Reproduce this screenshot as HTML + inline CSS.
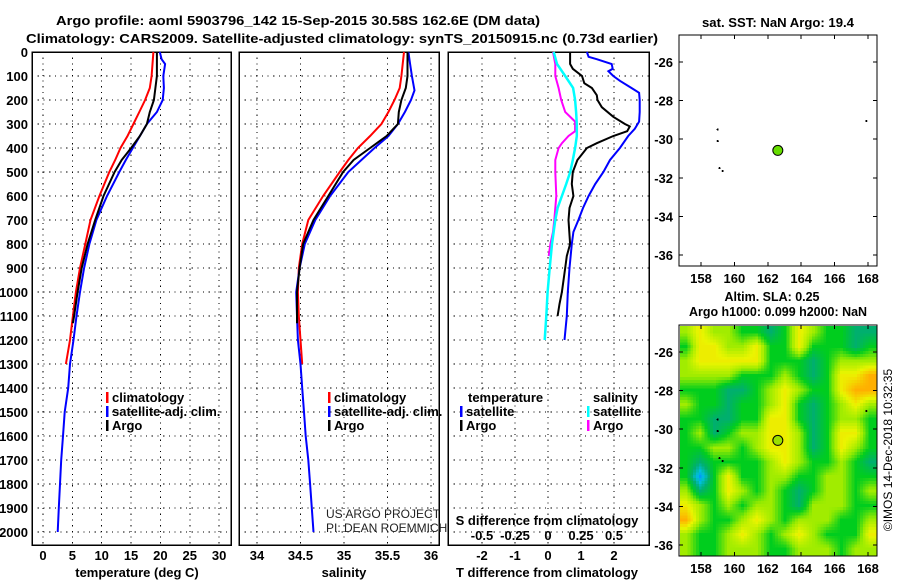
<!DOCTYPE html>
<html><head><meta charset="utf-8"><style>
html,body{margin:0;padding:0;background:#fff;}
svg{display:block;font-family:"Liberation Sans",sans-serif;}
.b{font-weight:bold;font-size:13px;}
.t{font-weight:bold;font-size:13px;}
</style></head><body>
<svg id="chart" width="900" height="580" viewBox="0 0 900 580" xmlns="http://www.w3.org/2000/svg" shape-rendering="crispEdges">
<defs>
<clipPath id="mapclip"><rect x="680" y="326" width="197" height="230"/></clipPath>
</defs>
<text class="b" x="298" y="25" text-anchor="middle" textLength="484" lengthAdjust="spacingAndGlyphs">Argo profile: aoml 5903796_142 15-Sep-2015 30.58S 162.6E (DM data)</text>
<text class="b" x="342" y="43" text-anchor="middle" textLength="632" lengthAdjust="spacingAndGlyphs">Climatology: CARS2009. Satellite-adjusted climatology: synTS_20150915.nc (0.73d earlier)</text>
<text class="b" x="778" y="27" text-anchor="middle" textLength="152" lengthAdjust="spacingAndGlyphs">sat. SST: NaN Argo: 19.4</text>
<text class="b" x="772" y="301" text-anchor="middle" textLength="95" lengthAdjust="spacingAndGlyphs">Altim. SLA: 0.25</text>
<text class="b" x="778" y="316" text-anchor="middle" textLength="178" lengthAdjust="spacingAndGlyphs">Argo h1000: 0.099 h2000: NaN</text>
<g id="g"></g>
<text x="892" y="450" font-size="12" text-anchor="middle" transform="rotate(-90 892 450)">©IMOS 14-Dec-2018 10:32:35</text>
</svg>
<script>
// ---------- data ----------
const tDepth = [0,100,150,200,250,300,350,400,450,500,600,700,800,900,1000,1100,1200,1300];
const tClim  = [18.8,18.5,18.2,17.4,16.4,15.4,14.4,13.2,12.3,11.3,9.6,8.1,7.2,6.3,5.6,5.1,4.6,3.9];
const aDepth = [0,100,200,250,300,350,400,450,500,600,700,800,900,1000,1100,1130];
const tArgo  = [19.4,19.4,18.9,18.2,17.7,16.5,15.0,13.4,12.2,10.3,8.9,7.6,6.6,5.9,5.3,5.1];
const sDepth = [0,30,50,100,150,200,250,300,350,400,450,500,600,700,800,900,1000,1100,1200,1300,1400,1500,1600,1700,1800,1900,2000];
const tSat   = [19.9,20.2,20.8,20.5,20.6,20.4,19.4,17.7,16.5,15.3,14.1,13.0,10.9,9.1,7.9,7.0,6.3,5.7,5.2,4.6,4.3,3.7,3.4,3.1,2.9,2.7,2.5];
const cDepthS = [0,100,150,200,250,300,350,400,450,500,600,700,800,900,1000,1100,1200,1300];
const sClim  = [35.69,35.66,35.64,35.58,35.51,35.43,35.30,35.16,35.05,34.95,34.76,34.59,34.52,34.48,34.47,34.48,34.50,34.52];
const aDepthS = [0,100,150,200,250,300,350,400,450,500,600,700,800,900,1000,1100,1130];
const sArgo  = [35.73,35.73,35.71,35.66,35.63,35.62,35.49,35.30,35.11,34.99,34.82,34.65,34.53,34.49,34.46,34.46,34.46];
const satDepthS = [0,50,100,160,200,250,300,350,400,450,500,600,700,800,900,1000,1100,1200,1300,1400,1500,1600,1700,1800,1900,2000];
const sSat   = [35.74,35.76,35.78,35.81,35.77,35.70,35.62,35.51,35.35,35.20,35.05,34.84,34.67,34.55,34.49,34.45,34.46,34.47,34.50,34.52,34.54,34.56,34.59,34.61,34.63,34.65];
const dtSatDepth = [0,20,30,50,70,80,100,120,150,170,200,250,290,320,350,400,450,500,550,600,650,700,750,800,900,1000,1100,1200];
const dtSat  = [1.18,1.23,1.48,1.93,1.96,1.83,1.98,2.18,2.53,2.76,2.78,2.78,2.76,2.63,2.43,2.18,1.88,1.68,1.43,1.23,1.06,0.92,0.77,0.72,0.65,0.60,0.57,0.50];
const dtArgoDepth = [0,50,70,100,130,150,180,200,230,270,300,310,330,350,380,400,450,500,550,600,650,700,800,850,900,1000,1050,1100];
const dtArgo = [0.67,0.67,0.75,1.03,1.10,1.33,1.48,1.50,1.63,1.98,2.33,2.48,2.40,1.98,1.48,1.18,0.89,0.75,0.72,0.77,0.65,0.62,0.67,0.57,0.52,0.42,0.35,0.29];
const dsSatDepth = [0,50,100,150,200,250,300,350,400,450,500,550,600,650,700,800,900,1000,1100,1200];
const dsSat  = [0.043,0.068,0.13,0.19,0.205,0.213,0.218,0.218,0.205,0.188,0.168,0.138,0.105,0.073,0.055,0.03,0.013,-0.003,-0.013,-0.025];
const dsArgoDepth = [0,50,100,150,200,250,290,300,330,350,380,400,450,500,600,700,750,800,850];
const dsArgo = [0.038,0.055,0.055,0.08,0.10,0.13,0.205,0.205,0.205,0.155,0.105,0.08,0.055,0.055,0.063,0.048,0.038,0.018,0.005];
const depthTicks = [0,100,200,300,400,500,600,700,800,900,1000,1100,1200,1300,1400,1500,1600,1700,1800,1900,2000];
const tempTicks = [0,5,10,15,20,25,30];
const salTicks = [34,34.5,35,35.5,36];
const salTickLabels = ["34","34.5","35","35.5","36"];
const dtTicks = [-2,-1,0,1,2];
const dsTicks = [-0.5,-0.25,0,0.25,0.5];
const dsTickLabels = ["-0.5","-0.25","0","0.25","0.5"];
const lonTicks = [158,160,162,164,166,168];
const latTicks = [-26,-28,-30,-32,-34,-36];
const argoLon = 162.6, argoLat = -30.58;
const dotLon = [159,159,159.1,159.3,167.9];
const dotLat = [-29.5,-30.1,-31.5,-31.65,-29.05];
const slaRows = [
"LYLLGGTGYLGGTT","GYYLLYGGYGGGTG","LYYYYYGGGTGLLL","LLLLGGGLGTGYYO",
"GGGTTGLYLGGYOO","LGGTGGLYGTGLYL","GGTTGGYYGTGLLG","GLTGLLYYLTGYYG",
"GGLLGLYYLTGYLG","GTGGGGLYLGGLGT","GBGYGGLLGGLLGG","LTGYLGLGTGLLGL",
"YLGLGLLGTLLLGG","OLGGLYLGLLLGGL","LGGLYLGLYLGGGY","LGGLLLGGLLLGLL"];
const slaCode = {B:0.05,T:0.3,G:0.45,L:0.62,Y:0.77,O:0.92};

// ---------- scales ----------
const NS="http://www.w3.org/2000/svg";
const g=document.getElementById('g');
function el(tag,attrs,parent){const e=document.createElementNS(NS,tag);for(const k in attrs)e.setAttribute(k,attrs[k]);(parent||g).appendChild(e);return e;}
const yD = d => 52 + d*0.24;
const xT = t => 43 + t*5.87;
const xS = s => 257 + (s-34)*87;
const xDT = t => 548 + t*33;
const xDS = s => 548 + s*132;
const mx = lon => 701 + (lon-158)*16.7;
const myTop = lat => 62 + (-26-lat)*19.3;
const myBot = lat => 352 + (-26-lat)*19.3;

function panel(x0,x1,name){
  const r=el('rect',{x:x0,y:52,width:x1-x0,height:493,fill:'#fff',stroke:'#000','stroke-width':1.5});
  
  
  depthTicks.forEach(d=>{
    const l=el('line',{x1:x0,x2:x1,y1:yD(d),y2:yD(d),stroke:'#000','stroke-dasharray':'1.2,4.5','stroke-width':1});
    
    
  });
}
function vgrid(xs,name){
  xs.forEach(x=>{
    const l=el('line',{x1:x,x2:x,y1:52,y2:545,stroke:'#000','stroke-dasharray':'1.2,4.5','stroke-width':1});
    
    
  });
}
function line(xs,ys,fx,color,name,w){
  const pts=xs.map((v,i)=>fx(v).toFixed(1)+','+yD(ys[i]).toFixed(1)).join(' ');
  const p=el('polyline',{points:pts,fill:'none',stroke:color,'stroke-width':w||2,'shape-rendering':'auto'});
  
  
}
function txt(x,y,s,cls,anchor,name){
  const t=el('text',{x:x,y:y,'text-anchor':anchor||'start'});
  if(cls)t.setAttribute('class',cls);
  t.textContent=s;
  
  
  return t;
}
function legendItem(x,y,color,label){
  const r=el('rect',{x:x,y:y-10,width:2.5,height:11,fill:color});
  
  
  txt(x+6,y,label,'b','start','legend-entry');
}

// Panel 1: temperature
panel(32,231,'temperature-panel');
vgrid(tempTicks.map(xT),'temp-gridline');
depthTicks.forEach(d=>txt(28,yD(d)+5,String(d),'t','end','depth-tick-label'));
tempTicks.forEach(t=>txt(xT(t),560,String(t),'t','middle','temp-tick-label'));
txt(137,577,'temperature (deg C)','b','middle','x-axis-title-temperature');
line(tClim,tDepth,xT,'#ff0000','temp-climatology-line');
line(tSat,sDepth,xT,'#0000ff','temp-satellite-line');
line(tArgo,aDepth,xT,'#000000','temp-argo-line');
legendItem(106,402,'#ff0000','climatology');
legendItem(106,416,'#0000ff','satellite-adj. clim.');
legendItem(106,430,'#000000','Argo');

// Panel 2: salinity
panel(239,439,'salinity-panel');
vgrid(salTicks.map(xS),'salinity-gridline');
salTicks.forEach((s,i)=>txt(xS(s),560,salTickLabels[i],'t','middle','salinity-tick-label'));
txt(344,577,'salinity','b','middle','x-axis-title-salinity');
line(sClim,cDepthS,xS,'#ff0000','sal-climatology-line');
line(sSat,satDepthS,xS,'#0000ff','sal-satellite-line');
line(sArgo,aDepthS,xS,'#000000','sal-argo-line');
legendItem(328,402,'#ff0000','climatology');
legendItem(328,416,'#0000ff','satellite-adj. clim.');
legendItem(328,430,'#000000','Argo');
const c1=txt(326,518,'US ARGO PROJECT',null,'start','credit-project');c1.setAttribute('font-size','12');c1.setAttribute('fill','#222');
const c2=txt(326,532,'PI: DEAN ROEMMICH',null,'start','credit-pi');c2.setAttribute('font-size','12');c2.setAttribute('fill','#222');

// Panel 3: differences
panel(448,649,'difference-panel');
vgrid(dtTicks.map(xDT),'diff-gridline');
line(dsArgo,dsArgoDepth,xDS,'#ff00ff','sal-diff-argo-line');
line(dsSat,dsSatDepth,xDS,'#00ffff','sal-diff-satellite-line',2.5);
line(dtArgo,dtArgoDepth,xDT,'#000000','temp-diff-argo-line');
line(dtSat,dtSatDepth,xDT,'#0000ff','temp-diff-satellite-line');
txt(468,402,'temperature','b','start','legend-title-temperature');
legendItem(460,416,'#0000ff','satellite');
legendItem(460,430,'#000000','Argo');
txt(593,402,'salinity','b','start','legend-title-salinity');
legendItem(587,416,'#00ffff','satellite');
legendItem(587,430,'#ff00ff','Argo');
txt(547,525,'S difference from climatology','b','middle','s-diff-axis-title');
dsTicks.forEach((s,i)=>txt(xDS(s),540,dsTickLabels[i],'t','middle','s-diff-tick-label'));
dtTicks.forEach(t=>txt(xDT(t),560,String(t),'t','middle','t-diff-tick-label'));
txt(547,577,'T difference from climatology','b','middle','t-diff-axis-title');

// Top map
const tm=el('rect',{x:679,y:35,width:198,height:231,fill:'#fff',stroke:'#000','stroke-width':1.2});


function mapAxes(my,y0,y1,showLon){
  lonTicks.forEach(l=>{
    el('line',{x1:mx(l),x2:mx(l),y1:y0,y2:y0+4,stroke:'#000'});
    el('line',{x1:mx(l),x2:mx(l),y1:y1,y2:y1-4,stroke:'#000'});
    if(showLon)txt(mx(l),y1+17,String(l),'t','middle','lon-tick-label');
  });
  latTicks.forEach(l=>{
    el('line',{x1:679,x2:683,y1:my(l),y2:my(l),stroke:'#000'});
    el('line',{x1:877,x2:873,y1:my(l),y2:my(l),stroke:'#000'});
    txt(673,my(l)+5,String(l),'t','end','lat-tick-label');
  });
}
mapAxes(myTop,35,266,true);
dotLon.forEach((l,i)=>{
  const d=el('circle',{cx:mx(l),cy:myTop(dotLat[i]),r:1.1,fill:'#000'});
  
  
});
const ap=el('circle',{cx:mx(argoLon),cy:myTop(argoLat),r:5,fill:'#66dd00',stroke:'#000','stroke-width':1,'shape-rendering':'auto'});



// Bottom map (SLA) - bilinear smoothing of grid values
function slaColor(v){
  const stops=[[0.0,[0,140,255]],[0.15,[0,190,220]],[0.3,[0,175,110]],[0.45,[0,205,30]],[0.6,[150,235,0]],[0.75,[235,245,0]],[0.92,[255,175,0]]];
  if(v<=0)return 'rgb(0,140,255)';
  for(let i=1;i<stops.length;i++){if(v<=stops[i][0]){const a=stops[i-1],b=stops[i],f=(v-a[0])/(b[0]-a[0]);return 'rgb('+a[1].map((c,k)=>Math.round(c+(b[1][k]-c)*f)).join(',')+')';}}
  return 'rgb(255,175,0)';
}
const mg=el('g',{'clip-path':'url(#mapclip)'});


const NR=slaRows.length, NC=slaRows[0].length;
const val=(r,c)=>slaCode[slaRows[Math.max(0,Math.min(NR-1,r))][Math.max(0,Math.min(NC-1,c))]];
const cw=198/NC, ch=231/NR, SUB=5;
for(let r=0;r<NR*SUB;r++){
  for(let c=0;c<NC*SUB;c++){
    const fr=(r+0.5)/SUB-0.5, fc=(c+0.5)/SUB-0.5;
    const r0=Math.floor(fr), c0=Math.floor(fc), ar=fr-r0, ac=fc-c0;
    const v=(1-ar)*((1-ac)*val(r0,c0)+ac*val(r0,c0+1))+ar*((1-ac)*val(r0+1,c0)+ac*val(r0+1,c0+1));
    const cell=el('rect',{x:(679+c*cw/SUB).toFixed(2),y:(325+r*ch/SUB).toFixed(2),width:(cw/SUB+0.6).toFixed(2),height:(ch/SUB+0.6).toFixed(2),fill:slaColor(v)},mg);
    
    
  }
}
const bm=el('rect',{x:679,y:325,width:198,height:231,fill:'none',stroke:'#000','stroke-width':1.2});


mapAxes(myBot,325,556,true);
dotLon.forEach((l,i)=>{
  const d=el('circle',{cx:mx(l),cy:myBot(dotLat[i]),r:1.1,fill:'#000'});
  
  
});
const ap2=el('circle',{cx:mx(argoLon),cy:myBot(argoLat),r:5,fill:'#9be000',stroke:'#000','stroke-width':1,'shape-rendering':'auto'});


</script>
</body></html>
